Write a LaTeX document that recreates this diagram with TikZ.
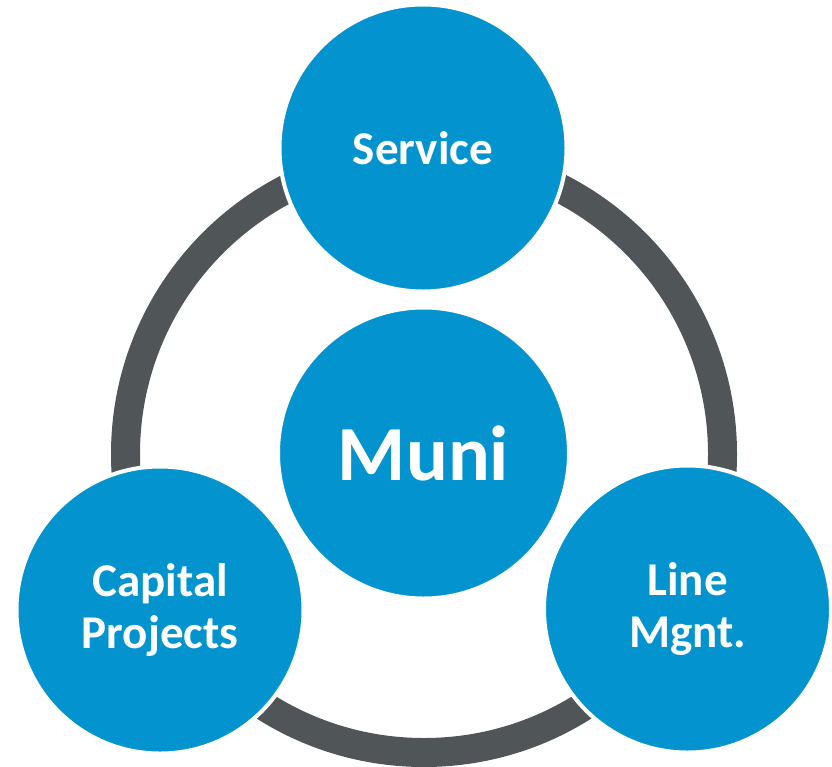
\documentclass[tikz,border=0pt]{standalone}
\usepackage{fontspec}
\setmainfont{Carlito}
\definecolor{muniblue}{RGB}{3,148,208}
\definecolor{ringgrey}{RGB}{80,85,88}
\begin{document}
\begin{tikzpicture}[x=1pt,y=1pt,yscale=-1,
  bubble/.style={circle,fill=muniblue,draw=white,line width=4pt,minimum size=287pt,inner sep=0pt,
    text=white,align=center,font=\fontsize{47}{52}\selectfont\bfseries},
  hub/.style={bubble,minimum size=291pt,font=\fontsize{78}{80}\selectfont\bfseries}]
\useasboundingbox (0,0) rectangle (832,766);

% ring behind
\coordinate (ringc) at (424,454);
\draw [ringgrey,line width=29pt] (ringc) circle [radius=298.5];

% Bubbles
\node [hub] (muni) at (423.5,453) {Muni};
\node [bubble] (service) at (423,148) {Service};
\node [bubble] (capital) at (160,610) {Capital\\Projects};
\node [bubble] (line) at (687.5,609) {Line\\Mgnt.};
\end{tikzpicture}
\end{document}
